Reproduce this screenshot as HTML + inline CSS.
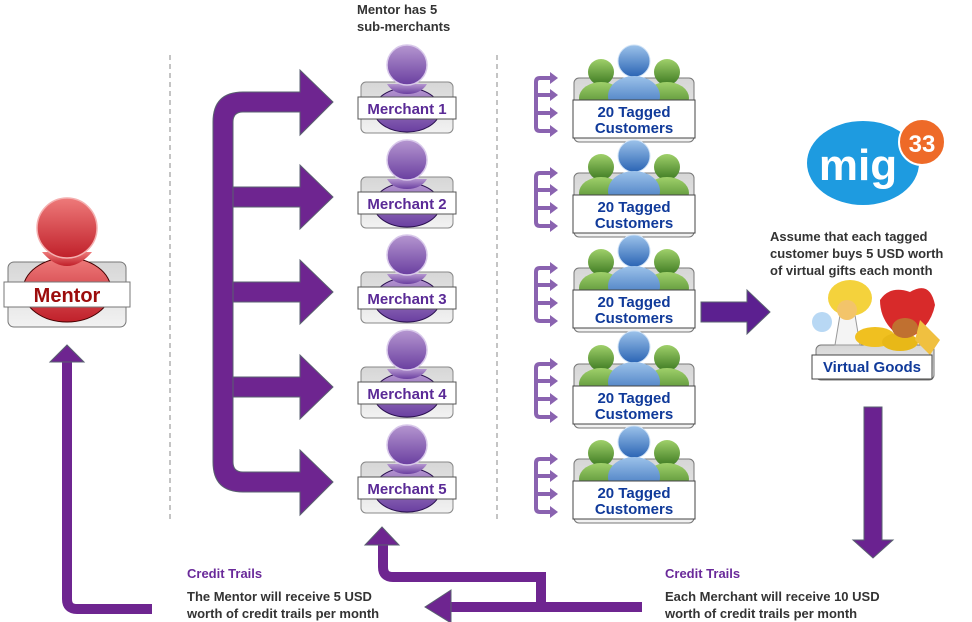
<!DOCTYPE html>
<html><head><meta charset="utf-8"><style>
html,body{margin:0;padding:0;background:#fff;}
svg{display:block;font-family:"Liberation Sans","DejaVu Sans",sans-serif;}
</style></head><body>
<svg width="972" height="622" viewBox="0 0 972 622" xmlns="http://www.w3.org/2000/svg">
<defs>
<linearGradient id="pg" x1="0" y1="0" x2="0" y2="1"><stop offset="0" stop-color="#b596d0"/><stop offset="1" stop-color="#6a3fa0"/></linearGradient>
<linearGradient id="rg" x1="0" y1="0" x2="0" y2="1"><stop offset="0" stop-color="#ee7a7a"/><stop offset="1" stop-color="#c0202a"/></linearGradient>
<linearGradient id="bg" x1="0" y1="0" x2="0" y2="1"><stop offset="0" stop-color="#9cc2ea"/><stop offset="1" stop-color="#2a64b4"/></linearGradient>
<linearGradient id="gg" x1="0" y1="0" x2="0" y2="1"><stop offset="0" stop-color="#9fd06a"/><stop offset="1" stop-color="#3e7a22"/></linearGradient>
<linearGradient id="boxg" x1="0" y1="0" x2="0" y2="1"><stop offset="0" stop-color="#d6d6d6"/><stop offset="1" stop-color="#f2f2f2"/></linearGradient>
<g id="merch">
<rect x="-46" y="-26" width="92" height="51" rx="5" fill="url(#boxg)" stroke="#888"/>
<ellipse cx="0" cy="2" rx="33" ry="22" fill="url(#pg)" stroke="#2a1050"/>
<path d="M-20 -24 Q-14 -14 0 -14 Q14 -14 20 -24" fill="url(#pg)"/>
<circle cx="0" cy="-43" r="20" fill="url(#pg)" stroke="#d8c8ea" stroke-width="1.5"/>
<rect x="-49" y="-11" width="98" height="22" fill="#fff" stroke="#555"/>
</g>
<g id="cust">
<rect x="-60" y="-22" width="120" height="64" rx="5" fill="url(#boxg)" stroke="#777"/>
<circle cx="-33" cy="-28" r="13" fill="url(#gg)"/>
<ellipse cx="-33" cy="-2" rx="22" ry="16" fill="url(#gg)"/>
<circle cx="33" cy="-28" r="13" fill="url(#gg)"/>
<ellipse cx="33" cy="-2" rx="22" ry="16" fill="url(#gg)"/>
<circle cx="0" cy="-39" r="16" fill="url(#bg)" stroke="#cfe2f6"/>
<ellipse cx="0" cy="-4" rx="26" ry="20" fill="url(#bg)"/>
<rect x="-61" y="0" width="122" height="38" fill="#fff" stroke="#444"/>
</g>
<g id="sm" fill="none" stroke="#8a63b0" stroke-width="4">
<path d="M551 -22 H540 Q536 -22 536 -18 V27 Q536 31 540 31 H551 M536 -5 H551 M536 13 H551"/>
<path d="M550 -28 L558 -22 L550 -16 Z M550 -11 L558 -5 L550 1 Z M550 7 L558 13 L550 19 Z M550 25 L558 31 L550 37 Z" fill="#8a63b0" stroke="none"/>
</g>
</defs>

<line x1="170" y1="55" x2="170" y2="520" stroke="#888" stroke-dasharray="5,4"/>
<line x1="497" y1="55" x2="497" y2="520" stroke="#888" stroke-dasharray="5,4"/>

<!-- Mentor -->
<rect x="8" y="262" width="118" height="65" rx="6" fill="url(#boxg)" stroke="#777"/>
<ellipse cx="67" cy="290" rx="44" ry="32" fill="url(#rg)" stroke="#400"/>
<path d="M42 252 Q54 266 67 266 Q80 266 92 252" fill="url(#rg)"/>
<circle cx="67" cy="228" r="30" fill="url(#rg)" stroke="#f4b0b0" stroke-width="1.5"/>
<rect x="4" y="282" width="126" height="25" fill="#fff" stroke="#777"/>
<text x="67" y="302" font-size="20" font-weight="bold" fill="#9c0c0c" text-anchor="middle">Mentor</text>

<!-- big bracket -->
<g fill="#6e2590" stroke="#5a6070" stroke-width="1">
<path d="M213 462 V122 Q213 92 243 92 H300 V70 L333 102 L300 135 V112 H243 Q233 112 233 122 V462 Q233 472 243 472 H300 V450 L333 482 L300 515 V492 H243 Q213 492 213 462 Z"/>
<path d="M233 187 H300 V165 L333 197 L300 229 V207 H233 Z"/>
<path d="M233 282 H300 V260 L333 292 L300 324 V302 H233 Z"/>
<path d="M233 377 H300 V355 L333 387 L300 419 V397 H233 Z"/>
</g>

<text x="357" y="14" font-size="13" font-weight="bold" fill="#333">Mentor has 5</text>
<text x="357" y="31" font-size="13" font-weight="bold" fill="#333">sub-merchants</text>
<g font-size="15" font-weight="bold" fill="#5a2a96" text-anchor="middle">
<use href="#merch" x="407" y="108"/><text x="407" y="114">Merchant 1</text>
<use href="#merch" x="407" y="203"/><text x="407" y="209">Merchant 2</text>
<use href="#merch" x="407" y="298"/><text x="407" y="304">Merchant 3</text>
<use href="#merch" x="407" y="393"/><text x="407" y="399">Merchant 4</text>
<use href="#merch" x="407" y="488"/><text x="407" y="494">Merchant 5</text>
</g>

<g font-size="15" font-weight="bold" fill="#103a9a" text-anchor="middle">
<use href="#cust" x="634" y="100"/><use href="#sm" y="100"/><text x="634" y="117">20 Tagged</text><text x="634" y="133">Customers</text>
<use href="#cust" x="634" y="195"/><use href="#sm" y="195"/><text x="634" y="212">20 Tagged</text><text x="634" y="228">Customers</text>
<use href="#cust" x="634" y="290"/><use href="#sm" y="290"/><text x="634" y="307">20 Tagged</text><text x="634" y="323">Customers</text>
<use href="#cust" x="634" y="386"/><use href="#sm" y="386"/><text x="634" y="403">20 Tagged</text><text x="634" y="419">Customers</text>
<use href="#cust" x="634" y="481"/><use href="#sm" y="481"/><text x="634" y="498">20 Tagged</text><text x="634" y="514">Customers</text>
</g>

<path d="M701 302 H747 V290 L770 312 L747 334 V322 H701 Z" fill="#5c2090" stroke="#5a6070"/>

<ellipse cx="863" cy="163" rx="56" ry="42" fill="#1e9be0"/>
<text x="858" y="180" font-size="44" font-weight="bold" fill="#fff" text-anchor="middle">mig</text>
<circle cx="922" cy="142" r="23" fill="#ee6a28" stroke="#fff" stroke-width="2"/>
<text x="922" y="152" font-size="24" font-weight="bold" fill="#fff" text-anchor="middle">33</text>
<g font-size="13" font-weight="bold" fill="#333">
<text x="770" y="241">Assume that each tagged</text>
<text x="770" y="258">customer buys 5 USD worth</text>
<text x="770" y="275">of virtual gifts each month</text>
</g>

<rect x="816" y="345" width="118" height="35" rx="5" fill="url(#boxg)" stroke="#777"/>
<ellipse cx="850" cy="298" rx="22" ry="18" fill="#f4d23c"/>
<circle cx="822" cy="322" r="10" fill="#b8d8f4"/>
<path d="M835 345 L840 315 L855 315 L860 345 Z" fill="#f4f4f4" stroke="#999"/>
<circle cx="847" cy="310" r="10" fill="#f3c46a"/>
<path d="M880 300 Q890 285 910 292 Q930 280 935 305 Q930 330 905 340 Q880 325 880 300 Z" fill="#d82a2a"/>
<ellipse cx="875" cy="337" rx="20" ry="10" fill="#f0c020"/>
<ellipse cx="900" cy="342" rx="18" ry="9" fill="#e8b818"/>
<ellipse cx="905" cy="328" rx="13" ry="10" fill="#c07030"/>
<path d="M920 320 L940 340 L930 355 L915 340 Z" fill="#f0c040"/>
<rect x="812" y="355" width="120" height="24" fill="#fff" stroke="#444"/>
<text x="872" y="372" font-size="15" font-weight="bold" fill="#103a9a" text-anchor="middle">Virtual Goods</text>

<path d="M864 407 H882 V540 H893 L873 558 L853 540 H864 Z" fill="#6a2290" stroke="#5a6070"/>

<!-- bottom arrows -->
<g fill="none" stroke="#6e2590" stroke-width="10">
<path d="M642 607 H448"/>
<path d="M541 607 V577 H393 Q383 577 383 567 V543"/>
<path d="M152 609 H77 Q67 609 67 599 V360"/>
</g>
<g fill="#6e2590" stroke="#5a6070">
<path d="M451 590 L425 607 L451 623 Z"/>
<path d="M365 545 L382 527 L399 545 Z"/>
<path d="M50 362 L67 345 L84 362 Z"/>
</g>

<text x="187" y="578" font-size="13" font-weight="bold" fill="#6a2a9a">Credit Trails</text>
<text x="187" y="601" font-size="13" font-weight="bold" fill="#333">The Mentor will receive 5 USD</text>
<text x="187" y="618" font-size="13" font-weight="bold" fill="#333">worth of credit trails per month</text>
<text x="665" y="578" font-size="13" font-weight="bold" fill="#6a2a9a">Credit Trails</text>
<text x="665" y="601" font-size="13" font-weight="bold" fill="#333">Each Merchant will receive 10 USD</text>
<text x="665" y="618" font-size="13" font-weight="bold" fill="#333">worth of credit trails per month</text>
</svg>
</body></html>
